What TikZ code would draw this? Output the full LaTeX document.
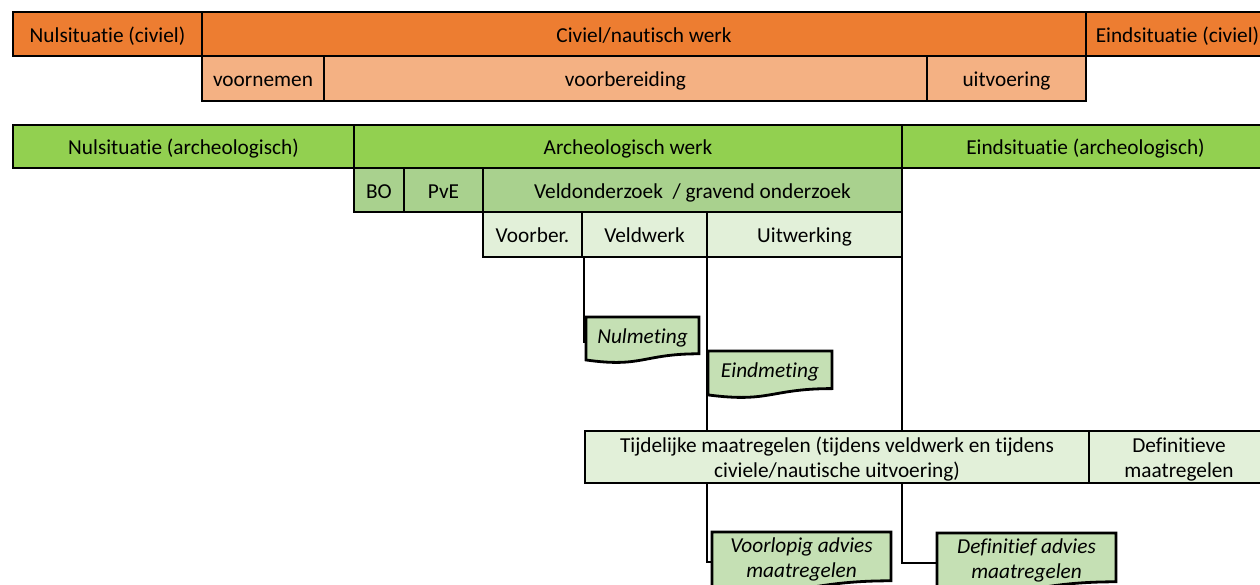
\documentclass[tikz,border=0pt]{standalone}
\usepackage{fontspec}
\setmainfont{Carlito}[Ligatures=NoCommon]
\usetikzlibrary{calc}
\definecolor{dorange}{HTML}{ED7D31}
\definecolor{lorange}{HTML}{F4B183}
\definecolor{bgreen}{HTML}{92D050}
\definecolor{mgreen}{HTML}{A9D18E}
\definecolor{lgreen}{HTML}{E2F0D9}
\definecolor{dgreen}{HTML}{C5E0B4}
\tikzset{
  box/.style={draw=black, line width=2.8pt, anchor=north west, inner sep=0pt, outer sep=0pt,
    font=\fontsize{21.3}{25.5}\selectfont, align=center, text=black},
  docshape/.style={draw=black, line width=2.8pt, fill=dgreen, line join=miter},
  doctext/.style={inner sep=0pt, align=center, font=\fontsize{21.3}{25.5}\selectfont\itshape},
  connA/.style={draw=black, line width=2.6pt},
  connB/.style={draw=black, line width=2pt},
  connC/.style={draw=black, line width=1.5pt},
}
\newcommand\bx[7]{\node[box,fill=#6,minimum width=#4pt,minimum height=#5pt] (#1) at (#2,#3) {\raisebox{-3pt}[\height][\depth]{\begin{tabular}{@{}c@{}}#7\end{tabular}}};}
\newcommand\docbox[6]{%
  \path[docshape] (#2,#3) -- (#2+#4,#3) -- (#2+#4,#3+0.8*#5)
    .. controls (#2+0.5*#4,#3+0.8*#5) and (#2+0.5*#4,#3+1.108*#5) .. (#2,#3+0.934*#5) -- cycle;
  \node[doctext] (#1) at (#2+0.5*#4,#3+0.45*#5) {#6};
}
\begin{document}
\begin{tikzpicture}[x=1pt,y=-1pt]
\clip (0,0) rectangle (1260,585);
\fill[white] (0,0) rectangle (1260,585);

% connectors (behind boxes)
\coordinate (n1) at (584,343);
\coordinate (v1) at (712,562);
\coordinate (d1) at (937,563);
\coordinate (uwl) at (707,257);
\coordinate (uwr) at (902,257);
\coordinate (vwl) at (584,257);
\coordinate (tl) at (707,431);
\coordinate (tr) at (902,431);
\coordinate (bl) at (707,483);
\coordinate (br) at (902,483);
\draw[connA] (vwl) -- (n1);
\draw[connB] (uwl) -- (tl);
\draw[connC] (uwr) -- (tr);
\draw[connB] (bl) |- (v1);
\draw[connC] (br) |- (d1);

% civil rows
\bx{nulc}{13}{12}{189}{44}{dorange}{Nulsituatie (civiel)}
\bx{civ}{202}{12}{884}{44}{dorange}{Civiel/nautisch werk}
\bx{eindc}{1086}{12}{183}{44}{dorange}{Eindsituatie (civiel)}
\bx{voorn}{202}{56}{122}{45}{lorange}{voornemen}
\bx{voorb}{324}{56}{603}{45}{lorange}{voorbereiding}
\bx{uitv}{927}{56}{159}{45}{lorange}{uitvoering}

% archaeological rows
\bx{nula}{13}{125}{341}{43}{bgreen}{Nulsituatie (archeologisch)}
\bx{arch}{354}{125}{548}{43}{bgreen}{Archeologisch werk}
\bx{einda}{902}{125}{367}{43}{bgreen}{Eindsituatie (archeologisch)}
\bx{bo}{354}{168}{50}{44}{mgreen}{BO}
\bx{pve}{404}{168}{79}{44}{mgreen}{PvE}
\bx{veld}{483}{168}{419}{44}{mgreen}{Veldonderzoek\ \ / gravend onderzoek}
\bx{vber}{483}{212}{99}{45}{lgreen}{Voorber.}
\bx{vwerk}{582}{212}{125}{45}{lgreen}{Veldwerk}
\bx{uitw}{707}{212}{195}{45}{lgreen}{Uitwerking}

% maatregelen
\bx{tijd}{585}{431}{504}{52}{lgreen}{Tijdelijke maatregelen (tijdens veldwerk en tijdens\\civiele/nautische uitvoering)}
\bx{defm}{1089}{431}{180}{52}{lgreen}{Definitieve\\maatregelen}

% documents
\docbox{nulm}{586}{317}{113}{46}{Nulmeting}
\docbox{eindm}{708}{351}{124}{47}{Eindmeting}
\docbox{voorl}{712}{532}{179}{61}{Voorlopig advies\\maatregelen}
\docbox{defa}{937}{533}{179}{61}{Definitief advies\\maatregelen}
\end{tikzpicture}
\end{document}
